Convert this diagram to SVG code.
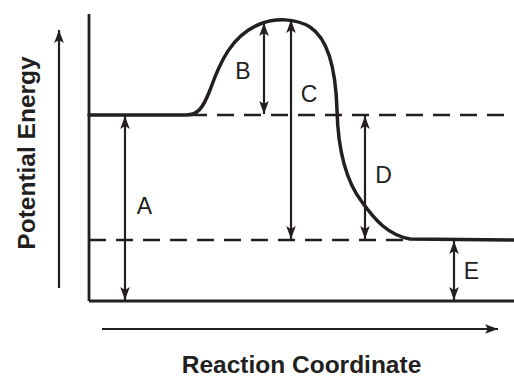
<svg xmlns="http://www.w3.org/2000/svg" width="514" height="377" viewBox="0 0 514 377">
<style>
.ln{stroke:#231f20;fill:none}
.frame{stroke-width:2.8}
.curve{stroke-width:3.5;stroke-linecap:round}
.dash{stroke-width:2.7;stroke-dasharray:17 10}
.arr{stroke-width:2.2}
.lbl{font-family:"Liberation Sans",Arial,sans-serif;font-size:23px;fill:#231f20;text-anchor:middle}
.ttl{font-family:"Liberation Sans",Arial,sans-serif;font-size:24.5px;font-weight:bold;fill:#231f20;text-anchor:middle}
</style>
<defs>
<marker id="ah" markerUnits="userSpaceOnUse" markerWidth="16" markerHeight="12" viewBox="-14 -6 16 12" refX="0" refY="0" orient="auto-start-reverse">
<path d="M0,0 L-13,-4.8 L-10,0 L-13,4.8 Z" fill="#231f20"/>
</marker>
</defs>
<g id="axes">
<line class="ln frame" x1="89" y1="14" x2="89" y2="301"/>
<line class="ln frame" x1="89" y1="301" x2="514" y2="301"/>
</g>
<g id="levels">
<line class="ln dash" x1="190" y1="115" x2="514" y2="115"/>
<line class="ln dash" x1="89" y1="240" x2="408" y2="240"/>
</g>
<g id="curve">
<path class="ln curve" d="M89,115 L186,115 C198,115 203,108 210,90 C220,62 232,35 260,24 C275,18 295,18 310,27 C330,40 336,75 337,110 C338,150 345,180 362,202 C375,220 388,235 410,239 L514,240"/>
</g>
<g id="connectors">
<line class="ln arr" x1="59" y1="288" x2="59" y2="30" marker-end="url(#ah)"/>
<line class="ln arr" x1="102" y1="329" x2="498" y2="329" marker-end="url(#ah)"/>
<line class="ln arr" x1="125" y1="116" x2="125" y2="300" marker-start="url(#ah)" marker-end="url(#ah)"/>
<line class="ln arr" x1="264" y1="23" x2="264" y2="114" marker-start="url(#ah)" marker-end="url(#ah)"/>
<line class="ln arr" x1="291" y1="20" x2="291" y2="239" marker-start="url(#ah)" marker-end="url(#ah)"/>
<line class="ln arr" x1="365" y1="116" x2="365" y2="239" marker-start="url(#ah)" marker-end="url(#ah)"/>
<line class="ln arr" x1="454" y1="241" x2="454" y2="300" marker-start="url(#ah)" marker-end="url(#ah)"/>
</g>
<g id="labels">
<text class="lbl" x="144.5" y="214">A</text>
<text class="lbl" x="243" y="79">B</text>
<text class="lbl" x="309" y="102">C</text>
<text class="lbl" x="383.5" y="183">D</text>
<text class="lbl" x="471.5" y="279">E</text>
</g>
<g id="titles">
<text class="ttl" transform="translate(35,153) rotate(-90)">Potential Energy</text>
<text class="ttl" x="301.5" y="373">Reaction Coordinate</text>
</g>
</svg>
